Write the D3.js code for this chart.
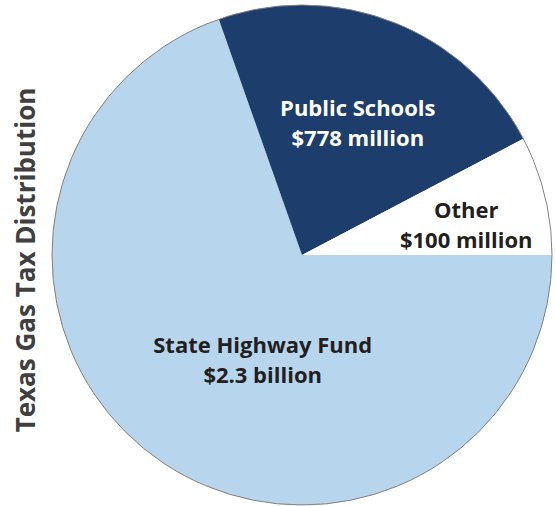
<!DOCTYPE html>
<html>
<head>
<meta charset="utf-8">
<script src="https://cdn.jsdelivr.net/npm/d3@7"></script>
<style>
  body { margin: 0; background: #fff; }
  text { font-family: "Open Sans", "DejaVu Sans", sans-serif; font-weight: bold; }
</style>
</head>
<body>
<div id="chart"></div>
<script>
// slices, in drawing order (clockwise from 3 o'clock)
var categories = ["State Highway Fund", "Public Schools", "Other"];
var amounts = ["$2.3 billion", "$778 million", "$100 million"];
// slice shares as drawn in the picture (percent of the circle)
var shares = [69.6, 22.7, 7.7];
var colors = ["#b7d6ee", "#1d3d6c", "#ffffff"];
var textColors = ["#231f20", "#ffffff", "#231f20"];
var title = "Texas Gas Tax Distribution";

var width = 556, height = 506;
var cx = 302, cy = 255, radius = 250;

var svg = d3.select("#chart")
  .append("svg")
    .attr("width", width)
    .attr("height", height);

var g = svg.append("g")
    .attr("transform", "translate(" + cx + "," + cy + ")");

var pie = d3.pie()
  .sort(null)
  .startAngle(Math.PI / 2)
  .endAngle(Math.PI / 2 + 2 * Math.PI)
  .value(function(d) { return d; });

var arc = d3.arc()
  .innerRadius(0)
  .outerRadius(radius);

var arcs = pie(shares);

g.selectAll("path.slice")
  .data(arcs)
  .enter()
  .append("path")
    .attr("class", "slice")
    .attr("d", arc)
    .attr("fill", function(d, i) { return colors[i]; });

// thin outline round the pie
g.append("circle")
  .attr("r", radius)
  .attr("fill", "none")
  .attr("stroke", "#808080")
  .attr("stroke-width", 1);

// label placement: distance from centre and angle nudge (radians)
var labelPlace = [
  {r: 112, da: -0.257},
  {r: 143, da: 0.027},
  {r: 167, da: 0.059}
];

var labels = g.selectAll("g.label")
  .data(arcs)
  .enter()
  .append("g")
    .attr("class", "label")
    .attr("transform", function(d, i) {
      var p = labelPlace[i];
      var a = (d.startAngle + d.endAngle) / 2 + p.da;
      return "translate(" + (Math.sin(a) * p.r) + "," + (-Math.cos(a) * p.r) + ")";
    });

labels.append("text")
  .attr("text-anchor", "middle")
  .attr("y", -7)
  .attr("font-size", 22)
  .attr("fill", function(d, i) { return textColors[i]; })
  .text(function(d, i) { return categories[i]; });

labels.append("text")
  .attr("text-anchor", "middle")
  .attr("y", 23)
  .attr("font-size", 22)
  .attr("fill", function(d, i) { return textColors[i]; })
  .text(function(d, i) { return amounts[i]; });

svg.append("text")
  .attr("transform", "translate(35,260) rotate(-90)")
  .attr("text-anchor", "middle")
  .attr("font-size", 26)
  .attr("fill", "#404040")
  .text(title);
</script>
</body>
</html>
